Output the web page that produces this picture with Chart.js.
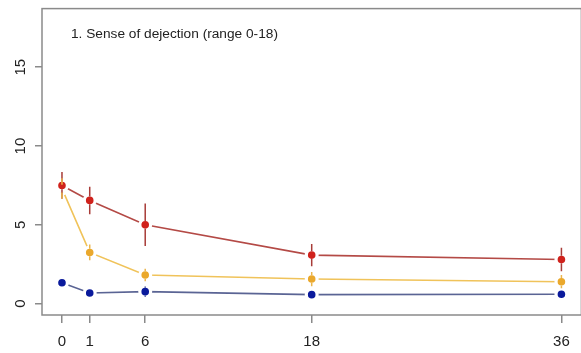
<!DOCTYPE html>
<html>
<head>
<meta charset="utf-8">
<script src="https://cdn.jsdelivr.net/npm/chart.js@4/dist/chart.umd.min.js"></script>
<style>
  body { margin: 0; background: #fff; }
  #wrap { width: 581px; height: 353px; overflow: hidden; }
</style>
</head>
<body>
<div id="wrap"><canvas id="chart" width="590" height="353"></canvas></div>
<script>
/**
 * Data
 */
const xPositions = [0, 2, 6, 18, 36];
const xLabels = ['0', '1', '6', '18', '36'];
const yTicks = [0, 5, 10, 15];

const redMean = [7.5, 6.55, 5.0, 3.08, 2.8];
const redErr = [0.85, 0.87, 1.35, 0.7, 0.75];
const orangeMean = [7.3, 3.25, 1.82, 1.56, 1.39];
const orangeErr = [0.65, 0.5, 0.4, 0.45, 0.42];
const blueMean = [1.33, 0.68, 0.76, 0.57, 0.6];
const blueErr = [0.12, 0.1, 0.33, 0.08, 0.08];

const TITLE = '1. Sense of dejection (range 0-18)';
const FONT = "'Liberation Sans', Arial, sans-serif";

//////////////////////////////////////////////////////////////////

function makeSeries(mean, err, lineColor, dotColor, barColor) {
    return {
        data: xPositions.map((x, i) => ({ x: x, y: mean[i] })),
        err: err,
        barColor: barColor,
        dotColor: dotColor,
        borderColor: lineColor,
        borderWidth: 1.6,
        backgroundColor: dotColor,
        pointBackgroundColor: dotColor,
        pointBorderColor: '#fff',
        pointBorderWidth: 3.2,
        pointRadius: 5.4,
        pointHoverRadius: 5.4,
        tension: 0,
        fill: false
    };
}

/**
 * Box, title and error bars
 */
const decorPlugin = {
    id: 'decor',
    afterDatasetsDraw(chart) {
        const ctx = chart.ctx;
        const xs = chart.scales.x;
        const ys = chart.scales.y;
        const dotR = 3.8;
        ctx.save();
        chart.data.datasets.forEach(function (ds) {
            ctx.strokeStyle = ds.barColor;
            ctx.lineWidth = 1.5;
            ds.data.forEach(function (p, i) {
                const px = xs.getPixelForValue(p.x);
                const py = ys.getPixelForValue(p.y);
                const top = ys.getPixelForValue(p.y + ds.err[i]);
                const bot = ys.getPixelForValue(p.y - ds.err[i]);
                ctx.beginPath();
                if (top < py - dotR) { ctx.moveTo(px, top); ctx.lineTo(px, py - dotR); }
                if (bot > py + dotR) { ctx.moveTo(px, py + dotR); ctx.lineTo(px, bot); }
                ctx.stroke();
            });
        });
        ctx.restore();
    },
    afterDraw(chart) {
        const ctx = chart.ctx;
        const a = chart.chartArea;
        ctx.save();
        ctx.strokeStyle = '#8a8a8a';
        ctx.lineWidth = 1.5;
        ctx.strokeRect(a.left, a.top, a.right - a.left, a.bottom - a.top);
        ctx.fillStyle = '#222';
        ctx.font = '13.7px ' + FONT;
        ctx.textBaseline = 'middle';
        ctx.fillText(TITLE, a.left + 29, a.top + 26);
        ctx.restore();
    }
};

const config = {
    type: 'line',
    data: {
        datasets: [
            makeSeries(redMean, redErr, '#b44a46', '#d0221c', '#a83c38'),
            makeSeries(orangeMean, orangeErr, '#f0c35a', '#eaa82c', '#eab54c'),
            makeSeries(blueMean, blueErr, '#5a6494', '#0a1a9c', '#3a4896')
        ]
    },
    options: {
        responsive: false,
        animation: false,
        layout: { padding: { top: 7, left: 0, right: 8, bottom: 0 } },
        plugins: {
            legend: { display: false },
            tooltip: { enabled: false },
            title: { display: false }
        },
        scales: {
            x: {
                type: 'linear',
                min: -1.44,
                max: 37.44,
                afterBuildTicks: function (scale) {
                    scale.ticks = xPositions.map(v => ({ value: v }));
                },
                afterFit: function (scale) {
                    scale.height = 38;
                    scale.paddingLeft = 0;
                    scale.paddingRight = 0;
                },
                border: { display: false },
                grid: { drawOnChartArea: false, drawTicks: true, tickLength: 8, color: '#8a8a8a', lineWidth: 1.5 },
                ticks: {
                    autoSkip: false,
                    maxRotation: 0,
                    padding: 10,
                    color: '#222',
                    font: { family: FONT, size: 15 },
                    callback: function (value) {
                        const i = xPositions.indexOf(value);
                        return i >= 0 ? xLabels[i] : '';
                    }
                }
            },
            y: {
                type: 'linear',
                min: -0.72,
                max: 18.72,
                afterBuildTicks: function (scale) {
                    scale.ticks = yTicks.map(v => ({ value: v }));
                },
                afterFit: function (scale) {
                    scale.width = 42;
                    scale.paddingTop = 0;
                    scale.paddingBottom = 0;
                },
                border: { display: false },
                grid: { drawOnChartArea: false, drawTicks: true, tickLength: 7, color: '#8a8a8a', lineWidth: 1.5 },
                ticks: {
                    minRotation: 90,
                    maxRotation: 90,
                    crossAlign: 'center',
                    padding: 6,
                    color: '#222',
                    font: { family: FONT, size: 15 }
                }
            }
        }
    },
    plugins: [decorPlugin]
};

new Chart(document.getElementById('chart'), config);
</script>
</body>
</html>
